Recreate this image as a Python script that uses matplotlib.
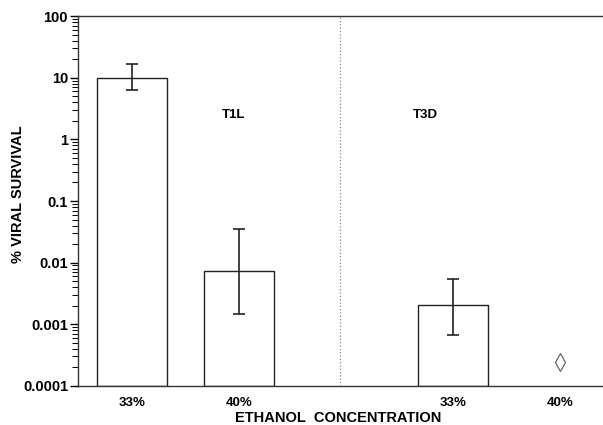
import matplotlib as mpl
mpl.use('Agg')
import matplotlib.pyplot as plt
import numpy as np

plt.rcParams['font.family'] = ['Liberation Sans', 'DejaVu Sans']

# data
positions = [0, 1, 3]
labels = ['33%', '40%', '33%', '40%']
label_pos = [0, 1, 3, 4]
survival = [10.0, 0.0072, 0.00195]
err_hi = [17.0, 0.035, 0.0055]
err_lo = [6.4, 0.00146, 0.00068]
diamond_x = [4]
diamond_y = [0.00024]
strains = ['T1L', 'T3D']
strain_x = [0.955, 2.74]
strain_y = 2.5

fig = plt.figure(figsize=(6.03, 4.25), dpi=100)
ax = fig.add_axes([0.129, 0.092, 0.869, 0.870])

surv = np.array(survival)
yerr = [surv - np.array(err_lo), np.array(err_hi) - surv]
ax.bar(positions, survival, width=0.66, bottom=1e-4, color='white',
       edgecolor='#222222', linewidth=1.0, zorder=2)
ax.errorbar(positions, survival, yerr=yerr, fmt='none', ecolor='#222222',
            elinewidth=1.2, capsize=4, capthick=1.2, zorder=3)
ax.plot(diamond_x, diamond_y, marker='d', markersize=9, mfc='white',
        mec='#555555', mew=0.8, linestyle='none', zorder=3)

ax.axvline(1.94, color='#888888', linestyle=':', linewidth=0.9, zorder=1)

for s, sx in zip(strains, strain_x):
    ax.text(sx, strain_y, s, fontsize=9.5, fontweight='bold', ha='center', va='center')

ax.set_yscale('log')
ax.set_ylim(1e-4, 100)
ax.set_xlim(-0.505, 4.39)
ax.set_yticks([1e-4, 1e-3, 1e-2, 1e-1, 1, 10, 100])
ax.set_yticklabels(['0.0001', '0.001', '0.01', '0.1', '1', '10', '100'],
                   fontsize=10.5, fontweight='bold')
ax.set_xticks(label_pos)
ax.set_xticklabels(labels, fontsize=9.5, fontweight='bold')
ax.tick_params(axis='x', length=0, pad=8)
ax.tick_params(axis='y', which='major', direction='out', length=6, width=1, pad=1)
ax.tick_params(axis='y', which='minor', direction='out', length=4, width=0.7)

ax.spines['right'].set_visible(False)
for sp in ['left', 'top', 'bottom']:
    ax.spines[sp].set_color('#333333')
    ax.spines[sp].set_linewidth(1.0)

ax.set_xlabel('ETHANOL  CONCENTRATION', fontsize=10.5, fontweight='bold', va='center')
ax.set_ylabel('% VIRAL SURVIVAL', fontsize=10.5, fontweight='bold', va='center')
ax.xaxis.set_label_coords(0.496, -0.086)
ax.yaxis.set_label_coords(-0.114, 0.519)

plt.savefig('out.png', dpi=100)
